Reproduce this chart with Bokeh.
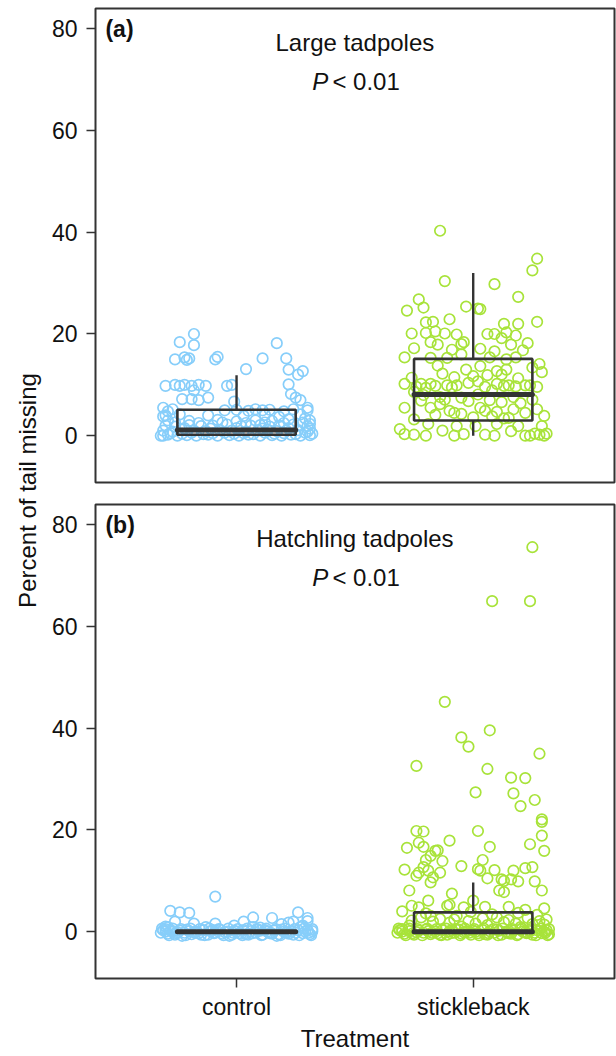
import math
from bokeh.plotting import figure
from bokeh.layouts import column, row
from bokeh.models import Range1d, FixedTicker, Label
from bokeh.embed import file_html
from bokeh.resources import INLINE

# ---------------- data ----------------
categories = ["control", "stickleback"]
cat_pos = [1, 2]
y_ticks = [0, 20, 40, 60, 80]
panel_tags = ["(a)", "(b)"]
panel_titles = ["Large tadpoles", "Hatchling tadpoles"]
p_symbol = "P"
p_rest = "< 0.01"
y_label = "Percent of tail missing"
x_label = "Treatment"

# (jitter offset, percent of tail missing)
a_control_points = [
    (-0.18, 20.0), (-0.24, 18.4), (-0.18, 17.8), (0.17, 18.2),
    (-0.26, 15.0), (-0.22, 15.4), (-0.20, 15.2), (-0.21, 14.9),
    (-0.09, 15.0), (-0.08, 15.5), (0.11, 15.2), (0.21, 15.2),
    (0.04, 13.1), (0.22, 13.0), (0.26, 12.0), (0.28, 12.7),
    (-0.30, 9.8), (-0.26, 10.0), (-0.24, 9.8), (-0.22, 10.0), (-0.19, 9.8), (-0.16, 10.0), (-0.13, 9.8),
    (-0.04, 9.8), (-0.02, 10.0), (0.22, 10.1),
    (-0.18, 8.9), (-0.23, 7.2), (-0.19, 7.2), (-0.16, 7.0), (-0.12, 7.5), (-0.01, 6.7),
    (0.23, 8.2), (0.25, 7.5), (0.27, 7.0), (0.30, 5.5), (0.30, 5.0),
    (-0.31, 5.5), (-0.29, 4.8), (-0.30, 4.0),
    (-0.27, 5.2), (-0.05, 5.0), (0.00, 5.1), (0.05, 4.9), (0.08, 5.2), (0.11, 5.0), (0.14, 5.1), (0.20, 4.8), (0.24, 5.2),
    (-0.31, 3.8), (-0.24, 4.2), (-0.12, 4.0), (0.03, 3.9), (0.12, 4.1), (0.18, 3.7), (0.27, 4.2),
    (-0.29, 3.0), (-0.20, 2.9), (-0.08, 3.1), (0.00, 2.8), (0.08, 3.0), (0.15, 2.9), (0.22, 3.2), (0.31, 3.0),
    (-0.30, 2.0), (-0.26, 1.8), (-0.20, 2.1), (-0.15, 1.9), (-0.10, 2.0), (-0.04, 2.2), (0.02, 1.9),
    (0.06, 2.0), (0.10, 2.1), (0.14, 1.8), (0.18, 2.0), (0.24, 2.2), (0.30, 1.9),
    (-0.31, 1.0), (-0.27, 0.8), (-0.23, 1.2), (-0.18, 1.0), (-0.13, 0.9), (-0.07, 1.1), (-0.02, 1.0),
    (0.04, 0.8), (0.09, 1.0), (0.13, 1.2), (0.17, 0.9), (0.21, 1.0), (0.26, 1.1), (0.30, 0.8),
    (-0.32, 0.0), (-0.29, 0.2), (-0.25, 0.0), (-0.21, 0.1), (-0.17, 0.0), (-0.12, 0.2), (-0.08, 0.0),
    (-0.03, 0.1), (0.01, 0.0), (0.05, 0.2), (0.10, 0.0), (0.15, 0.1), (0.19, 0.0), (0.23, 0.2),
    (0.27, 0.0), (0.31, 0.1),
    (-0.28, 0.5), (-0.23, 0.4), (-0.19, 0.6), (-0.14, 0.3), (-0.10, 0.5), (-0.05, 0.6), (-0.01, 0.4),
    (0.03, 0.5), (0.07, 0.3), (0.12, 0.6), (0.16, 0.4), (0.20, 0.5), (0.25, 0.3), (0.29, 0.6),
    (-0.26, 2.6), (-0.16, 2.5), (-0.06, 2.6), (0.04, 2.5), (0.12, 2.6), (0.20, 2.5), (0.28, 2.6),
    (-0.22, 1.5), (-0.11, 1.4), (0.00, 1.5), (0.11, 1.4), (0.22, 1.5), (0.31, 1.4),
    (-0.31, 0.0), (0.32, 0.4), (0.31, 2.3), (0.29, 3.4),
]

a_stickleback_points = [
    (-0.14, 40.3), (-0.12, 30.4), (0.27, 34.8), (0.25, 32.5), (0.09, 29.8), (0.19, 27.3), (-0.23, 26.8),
    (-0.28, 24.6), (-0.21, 25.2), (-0.03, 25.4), (0.02, 25.0), (0.03, 24.9),
    (-0.10, 22.9), (-0.20, 22.3), (-0.17, 22.4), (0.13, 22.0), (0.19, 22.0), (0.27, 22.4),
    (-0.26, 20.1), (-0.20, 20.2), (-0.16, 20.5), (-0.12, 20.1), (-0.07, 19.9),
    (0.06, 20.0), (0.09, 20.0), (0.14, 20.3), (0.18, 19.7),
    (-0.18, 18.4), (-0.15, 17.9), (-0.05, 18.0), (-0.04, 18.4), (0.12, 19.2), (0.16, 17.9), (0.23, 18.2),
    (-0.09, 16.9), (0.03, 17.1),
    (-0.18, 15.3), (-0.11, 15.3), (-0.05, 16.0), (-0.29, 15.4), (0.07, 15.4), (0.14, 15.0), (0.18, 15.4),
    (0.28, 14.1), (0.25, 13.4), (-0.03, 13.0), (0.03, 13.7), (0.10, 12.7), (0.14, 13.0),
    (-0.13, 12.2), (0.00, 11.7), (0.12, 12.0),
    (-0.29, 10.2), (-0.22, 10.2), (-0.18, 10.2), (-0.11, 9.9), (-0.07, 9.9), (-0.02, 10.4), (0.02, 10.7),
    (0.10, 10.2), (0.13, 9.8), (0.15, 9.9), (0.22, 9.9), (0.24, 9.9),
    (-0.21, 8.0), (-0.14, 7.6), (-0.05, 7.5), (0.02, 8.1), (0.17, 7.6), (-0.25, 8.6), (0.08, 8.9),
    (-0.29, 5.5), (-0.18, 5.5), (-0.10, 4.9), (-0.08, 4.5), (0.03, 5.5), (0.05, 4.9), (0.10, 4.7),
    (0.17, 5.2), (0.22, 4.5), (0.27, 5.2), (-0.14, 6.2), (0.20, 6.4),
    (-0.19, 2.3), (-0.07, 1.9), (0.01, 1.9), (0.10, 2.3), (0.19, 1.9), (0.29, 1.9), (-0.25, 3.2), (0.13, 3.4),
    (-0.29, 0.3), (-0.25, 0.2), (-0.20, 0.0), (-0.08, 0.0), (-0.04, 0.3), (0.05, 0.2), (0.09, 0.0),
    (0.22, 0.0), (0.24, 0.0), (0.28, 0.2), (0.30, 0.0), (0.26, 0.4),
    (-0.24, 9.6), (-0.20, 9.4), (-0.16, 9.8), (-0.09, 9.5), (0.05, 9.6), (0.18, 9.7), (0.27, 9.6),
    (-0.22, 6.9), (-0.12, 7.1), (-0.02, 6.8), (0.07, 7.0), (0.12, 6.6), (0.25, 7.1),
    (-0.16, 4.1), (-0.05, 4.3), (0.00, 3.6), (0.08, 3.8), (0.15, 3.5), (0.30, 3.9),
    (-0.26, 11.4), (-0.08, 11.5), (0.06, 11.9), (0.19, 11.3), (0.29, 12.5),
    (-0.15, 13.8), (-0.25, 17.2), (0.09, 16.6), (0.21, 16.8), (-0.13, 1.0), (0.16, 0.9),
    (0.31, 0.4), (-0.31, 1.3),
]

b_control_points = [
    (-0.09, 6.9), (-0.28, 4.1), (-0.24, 3.8), (-0.20, 3.7), (-0.26, 2.0), (-0.18, 1.6), (-0.09, 1.6),
    (-0.01, 1.2), (0.03, 2.0), (0.07, 2.8), (0.15, 2.7), (0.19, 1.5), (0.22, 1.8), (0.26, 3.8),
    (0.24, 2.0), (0.30, 2.7), (0.30, 2.1), (-0.30, 1.0), (0.10, 0.8), (0.28, 1.2),
    (-0.31, 0.3), (-0.29, -0.4), (-0.27, 0.1), (-0.26, -0.6), (-0.24, 0.2), (-0.22, -0.2), (-0.21, 0.4),
    (-0.19, -0.5), (-0.17, 0.0), (-0.16, -0.3), (-0.14, 0.3), (-0.12, -0.6), (-0.11, 0.1), (-0.09, -0.2),
    (-0.07, 0.4), (-0.06, -0.4), (-0.04, 0.0), (-0.02, -0.6), (-0.01, 0.2), (0.01, -0.3), (0.03, 0.3),
    (0.04, -0.5), (0.06, 0.1), (0.08, -0.2), (0.09, 0.4), (0.11, -0.6), (0.13, 0.0), (0.14, -0.3),
    (0.16, 0.2), (0.18, -0.5), (0.19, 0.4), (0.21, -0.1), (0.23, 0.1), (0.24, -0.6), (0.26, 0.3),
    (0.28, -0.3), (0.29, 0.0), (0.31, -0.5), (-0.30, 0.0), (-0.25, -0.1), (-0.20, 0.1), (-0.15, -0.6),
    (-0.10, 0.3), (-0.05, -0.1), (0.00, 0.0), (0.05, -0.6), (0.10, 0.2), (0.15, -0.4), (0.20, 0.0),
    (0.25, -0.2), (0.30, 0.3), (-0.28, 0.2), (-0.18, -0.1), (-0.08, 0.1), (0.02, -0.4), (0.12, 0.3),
    (0.22, -0.4), (0.32, 0.1),
    (-0.32, -0.2), (-0.30, 0.5), (-0.285, -0.7), (-0.27, 0.6), (-0.255, -0.3), (-0.235, 0.5), (-0.215, -0.7),
    (-0.195, 0.6), (-0.175, -0.2), (-0.155, 0.5), (-0.135, -0.7), (-0.115, 0.6), (-0.095, -0.3),
    (-0.075, 0.5), (-0.055, -0.7), (-0.035, 0.6), (-0.015, -0.2), (0.005, 0.5), (0.025, -0.7),
    (0.045, 0.6), (0.065, -0.3), (0.085, 0.5), (0.105, -0.7), (0.125, 0.6), (0.145, -0.2),
    (0.165, 0.5), (0.185, -0.7), (0.205, 0.6), (0.225, -0.3), (0.245, 0.5), (0.265, -0.7),
    (0.285, 0.6), (0.305, -0.2), (0.32, 0.5), (0.315, -0.7), (-0.315, 0.6),
    (-0.29, 0.9), (-0.23, -0.8), (-0.13, 0.9), (-0.03, -0.8), (0.07, 0.9), (0.17, -0.8), (0.27, 0.9),
]

b_stickleback_points = [
    (0.25, 75.6), (0.08, 65.0), (0.24, 65.0),
    (-0.12, 45.2), (0.07, 39.6), (-0.05, 38.2), (-0.02, 36.4), (0.28, 35.0), (-0.24, 32.6), (0.06, 32.0),
    (0.16, 30.3), (0.22, 30.2), (0.01, 27.4), (0.17, 27.2), (0.26, 25.9), (0.20, 24.7), (0.29, 22.1),
    (0.29, 21.6), (-0.24, 19.8), (-0.21, 19.7), (0.02, 19.8), (0.29, 18.9), (-0.10, 17.9), (-0.23, 17.5),
    (-0.21, 16.7), (-0.28, 16.5), (0.07, 16.7), (0.24, 17.2), (0.30, 15.9),
    (-0.16, 15.9), (-0.15, 16.0), (-0.18, 14.9), (-0.20, 14.1), (-0.13, 13.9),
    (-0.29, 12.2), (-0.21, 12.7), (-0.23, 11.6), (-0.24, 11.0), (-0.19, 12.0), (-0.17, 10.7), (-0.14, 11.6),
    (-0.18, 9.7), (-0.05, 12.9), (0.02, 12.3), (0.04, 14.1), (0.03, 12.0),
    (0.06, 10.5), (0.09, 12.1), (0.12, 10.3), (0.13, 10.0), (0.17, 12.0), (0.16, 10.3), (0.19, 9.9),
    (0.22, 12.5), (0.25, 12.7), (0.26, 9.9), (0.29, 8.1), (0.30, 4.6),
    (-0.27, 8.1), (-0.09, 7.5), (0.00, 6.1), (0.11, 8.1), (0.13, 7.8),
    (-0.19, 6.1), (-0.26, 5.1), (-0.23, 4.8), (-0.11, 5.1), (-0.10, 5.3), (-0.04, 4.8), (0.05, 4.9),
    (0.15, 4.9), (0.22, 4.3),
    (-0.22, 2.8), (-0.18, 3.1), (-0.14, 2.5), (-0.07, 3.1), (-0.02, 2.1), (0.01, 1.6), (0.10, 2.8),
    (0.13, 1.9), (0.18, 1.6), (0.28, 2.1), (0.25, 1.5), (-0.27, 1.2), (-0.05, 1.0), (0.06, 1.3),
    (0.20, 0.9), (0.30, 1.4), (-0.10, 1.8),
    (-0.31, 0.3), (-0.29, -0.4), (-0.27, 0.1), (-0.25, -0.6), (-0.23, 0.2), (-0.21, -0.2), (-0.20, 0.4),
    (-0.18, -0.5), (-0.16, 0.0), (-0.15, -0.3), (-0.13, 0.3), (-0.11, -0.6), (-0.10, 0.1), (-0.08, -0.2),
    (-0.06, 0.4), (-0.05, -0.4), (-0.03, 0.0), (-0.01, -0.6), (0.00, 0.2), (0.02, -0.3), (0.04, 0.3),
    (0.05, -0.5), (0.07, 0.1), (0.09, -0.2), (0.10, 0.4), (0.12, -0.6), (0.14, 0.0), (0.15, -0.3),
    (0.17, 0.2), (0.19, -0.5), (0.20, 0.4), (0.22, -0.1), (0.24, 0.1), (0.25, -0.6), (0.27, 0.3),
    (0.29, -0.3), (0.30, 0.0), (0.32, -0.5), (-0.30, 0.0), (-0.24, -0.1), (-0.19, 0.1), (-0.14, -0.6),
    (-0.09, 0.3), (-0.04, -0.1), (0.01, 0.0), (0.06, -0.6), (0.11, 0.2), (0.16, -0.4), (0.21, 0.0),
    (0.26, -0.2), (0.31, 0.3),
    (-0.32, -0.2), (-0.30, 0.5), (-0.285, -0.7), (-0.27, 0.6), (-0.255, -0.3), (-0.235, 0.5), (-0.215, -0.7),
    (-0.195, 0.6), (-0.175, -0.2), (-0.155, 0.5), (-0.135, -0.7), (-0.115, 0.6), (-0.095, -0.3),
    (-0.075, 0.5), (-0.055, -0.7), (-0.035, 0.6), (-0.015, -0.2), (0.005, 0.5), (0.025, -0.7),
    (0.045, 0.6), (0.065, -0.3), (0.085, 0.5), (0.105, -0.7), (0.125, 0.6), (0.145, -0.2),
    (0.165, 0.5), (0.185, -0.7), (0.205, 0.6), (0.225, -0.3), (0.245, 0.5), (0.265, -0.7),
    (0.285, 0.6), (0.305, -0.2), (0.32, 0.5), (0.315, -0.7), (-0.315, 0.6),
    (-0.26, 2.2), (-0.17, 2.0), (-0.08, 2.4), (0.04, 2.6), (0.15, 2.3), (0.23, 2.7), (0.31, 2.4),
    (-0.30, 4.0), (-0.20, 3.6), (-0.01, 3.9), (0.08, 3.4), (0.19, 3.7), (0.27, 3.3),
]

# box-plot summaries per category [control, stickleback]
a_q1 = [0.2, 3.0]
a_median = [1.1, 8.1]
a_q3 = [5.1, 15.1]
a_whisker_lo = [0.0, 0.0]
a_whisker_hi = [11.9, 32.0]

b_q1 = [0.0, 0.0]
b_median = [0.0, 0.0]
b_q3 = [0.0, 3.8]
b_whisker_lo = [0.0, 0.0]
b_whisker_hi = [0.0, 9.7]

# ---------------- style ----------------
colors = ["#87CEFA", "#A8E33A"]
dark = "#333333"
FONT = "Liberation Sans"
Y_RANGE = (-9.2, 84.0)
X_RANGE = (0.404, 2.597)
FRAME_W = 519
FRAME_H = 474
TOP_A = 8
GAP = 11
BOTTOM_B = 70
LAB_W = 48
BOX_HALF = 0.25


def make_panel(idx, groups, q1, med, q3, wlo, whi, show_x):
    p = figure(
        frame_width=FRAME_W, frame_height=FRAME_H,
        x_range=Range1d(*X_RANGE), y_range=Range1d(*Y_RANGE),
        toolbar_location=None, output_backend="svg",
        min_border_left=46, min_border_right=3,
        min_border_top=TOP_A if idx == 0 else GAP,
        min_border_bottom=GAP if idx == 0 else BOTTOM_B,
        background_fill_color="white", border_fill_color="white",
    )
    p.grid.visible = False
    p.outline_line_color = dark
    p.outline_line_width = 2

    for ci, pts in enumerate(groups):
        xs = [cat_pos[ci] + j for j, v in pts]
        ys = [v for j, v in pts]
        p.scatter(xs, ys, marker="circle", size=10.5, fill_color=None,
                  line_color=colors[ci], line_width=1.7)

    # boxes
    p.quad(left=[c - BOX_HALF for c in cat_pos], right=[c + BOX_HALF for c in cat_pos],
           bottom=q1, top=q3, fill_color=None, line_color=dark, line_width=2.6)
    p.segment(x0=cat_pos, y0=q3, x1=cat_pos, y1=whi, line_color=dark, line_width=2.4)
    p.segment(x0=cat_pos, y0=q1, x1=cat_pos, y1=wlo, line_color=dark, line_width=2.4)
    p.segment(x0=[c - BOX_HALF for c in cat_pos], y0=med,
              x1=[c + BOX_HALF for c in cat_pos], y1=med,
              line_color=dark, line_width=5, line_cap="round")

    # y axis
    yax = p.yaxis[0]
    yax.ticker = FixedTicker(ticks=y_ticks)
    yax.axis_line_color = None
    yax.major_tick_out = 9
    yax.major_tick_in = 0
    yax.minor_tick_line_color = None
    yax.major_tick_line_color = dark
    yax.major_tick_line_width = 1.5
    yax.major_label_text_font = FONT
    yax.major_label_text_font_size = "23px"
    yax.major_label_text_color = "#111111"
    yax.major_label_standoff = 9

    xax = p.xaxis[0]
    if show_x:
        xax.ticker = FixedTicker(ticks=cat_pos)
        xax.major_label_overrides = {cat_pos[i]: categories[i] for i in range(2)}
        xax.axis_line_color = None
        xax.major_tick_out = 9
        xax.major_tick_in = 0
        xax.minor_tick_line_color = None
        xax.major_tick_line_color = dark
        xax.major_tick_line_width = 1.5
        xax.major_label_text_font = FONT
        xax.major_label_text_font_size = "23px"
        xax.major_label_text_color = "#111111"
        xax.major_label_standoff = 6
        xax.axis_label = x_label
        xax.axis_label_text_font = FONT
        xax.axis_label_text_font_size = "24px"
        xax.axis_label_text_font_style = "normal"
        xax.axis_label_text_color = "#111111"
        xax.axis_label_standoff = 2
    else:
        xax.visible = False

    p.add_layout(Label(x=0.446, y=80.0, text=panel_tags[idx], text_font=FONT,
                       text_font_size="23px", text_font_style="bold",
                       text_align="left", text_baseline="middle", text_color="#111111"))
    p.add_layout(Label(x=1.5, y=77.3, text=panel_titles[idx], text_font=FONT,
                       text_font_size="24px", text_align="center",
                       text_baseline="middle", text_color="#111111"))
    p.add_layout(Label(x=1.388, y=69.6, text=p_symbol, text_font=FONT,
                       text_font_size="24px", text_font_style="italic",
                       text_align="right", text_baseline="middle", text_color="#111111"))
    p.add_layout(Label(x=1.405, y=69.6, text=p_rest, text_font=FONT,
                       text_font_size="24px", text_align="left",
                       text_baseline="middle", text_color="#111111"))
    return p


pa = make_panel(0, [a_control_points, a_stickleback_points],
                a_q1, a_median, a_q3, a_whisker_lo, a_whisker_hi, False)
pb = make_panel(1, [b_control_points, b_stickleback_points],
                b_q1, b_median, b_q3, b_whisker_lo, b_whisker_hi, True)

TOTAL_H = TOP_A + FRAME_H + GAP + GAP + FRAME_H + BOTTOM_B
lab = figure(width=LAB_W, height=TOTAL_H, x_range=Range1d(0, 1), y_range=Range1d(0, 1),
             toolbar_location=None, output_backend="svg", min_border=0,
             background_fill_color="white", border_fill_color="white")
lab.axis.visible = False
lab.grid.visible = False
lab.outline_line_color = None
lab.add_layout(Label(x=27 / LAB_W, y=1 - 490 / TOTAL_H, text=y_label, text_font=FONT,
                     text_font_size="24px", angle=math.pi / 2, text_align="center",
                     text_baseline="middle", text_color="#111111"))

layout = row(lab, column(pa, pb))
open("out.html", "w").write(file_html(layout, INLINE))
